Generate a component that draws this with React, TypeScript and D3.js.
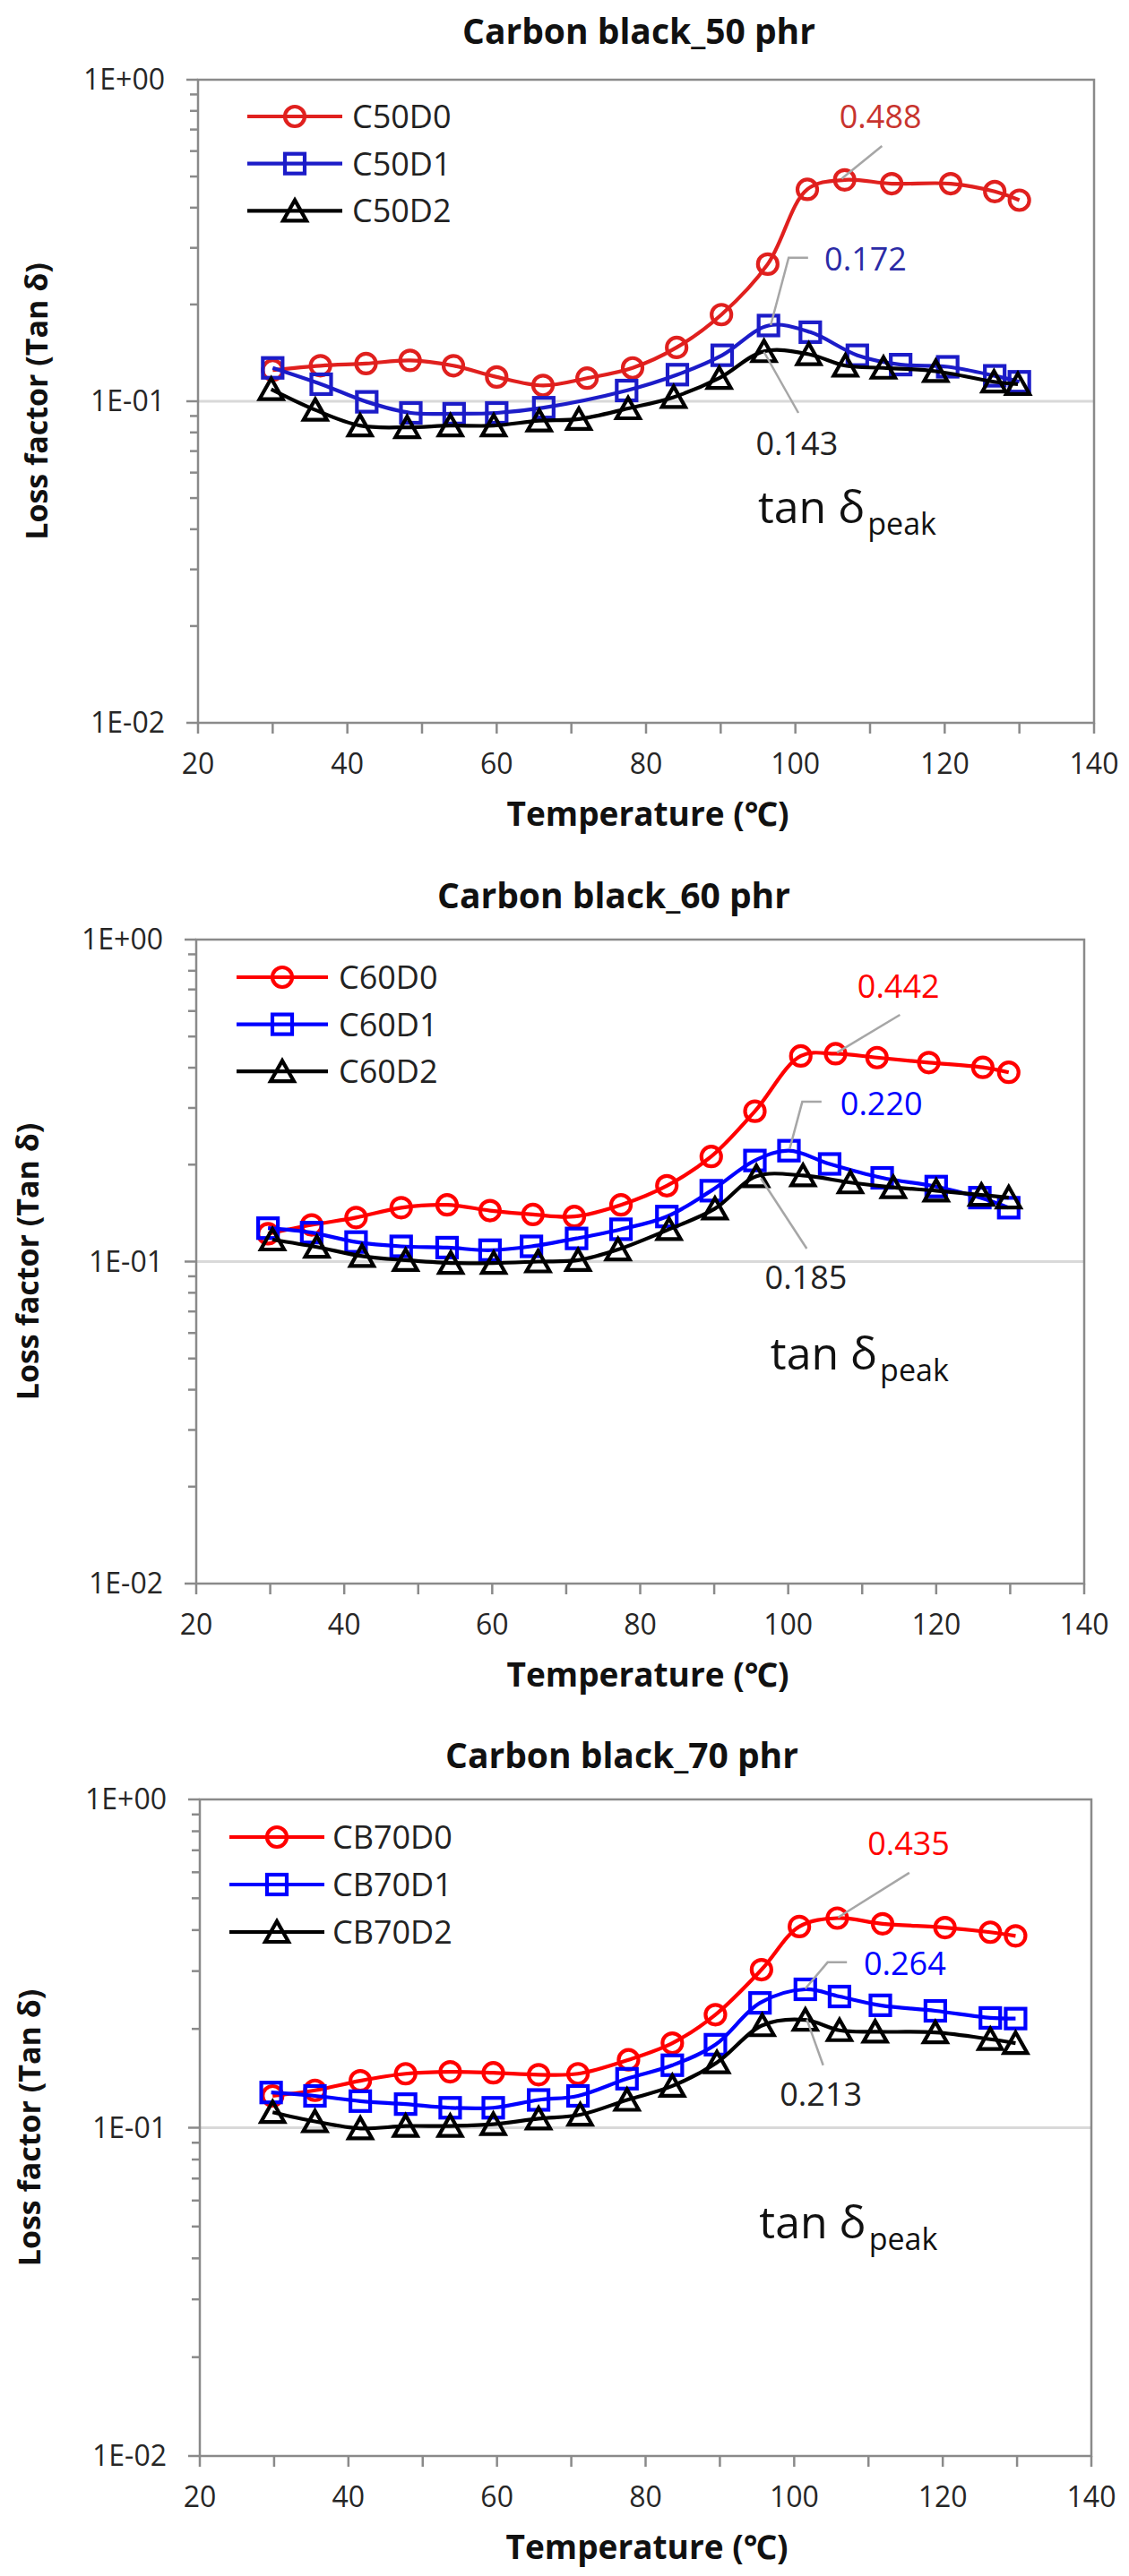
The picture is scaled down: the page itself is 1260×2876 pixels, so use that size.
import * as d3 from "d3";

// ---- data (temperature in °C, loss factor tan δ) ----
const temps50Red = [30, 36.4, 42.5, 48.4, 54.2, 60, 66.2, 72.1, 78.2, 84.1, 90.1, 96.3, 101.6, 106.6, 112.9, 120.8, 126.7, 130];
const c50d0 = [0.125, 0.129, 0.131, 0.134, 0.129, 0.119, 0.112, 0.118, 0.127, 0.147, 0.186, 0.267, 0.456, 0.488, 0.475, 0.475, 0.449, 0.422];
const temps50Blue = [30, 36.5, 42.6, 48.5, 54.3, 60, 66.3, 77.4, 84.2, 90.2, 96.4, 102, 108.3, 114.1, 120.4, 126.7, 130];
const c50d1 = [0.127, 0.113, 0.0996, 0.092, 0.0915, 0.092, 0.0955, 0.108, 0.121, 0.139, 0.172, 0.164, 0.139, 0.13, 0.128, 0.12, 0.115];
const temps50Black = [29.8, 35.7, 41.7, 48, 53.8, 59.6, 65.7, 71, 77.6, 83.7, 89.8, 95.8, 101.8, 106.7, 111.8, 118.8, 126.6, 129.8];
const c50d2 = [0.109, 0.094, 0.084, 0.083, 0.084, 0.084, 0.087, 0.088, 0.095, 0.103, 0.118, 0.143, 0.14, 0.129, 0.127, 0.124, 0.115, 0.113];

const temps60Red = [29.7, 35.6, 41.6, 47.7, 53.9, 59.7, 65.5, 71.1, 77.4, 83.6, 89.6, 95.5, 101.7, 106.4, 112, 119, 126.3, 129.8];
const c60d0 = [0.122, 0.13, 0.137, 0.147, 0.15, 0.144, 0.14, 0.138, 0.15, 0.172, 0.212, 0.293, 0.435, 0.442, 0.43, 0.415, 0.401, 0.387];
const temps60Blue = [29.7, 35.6, 41.6, 47.7, 53.9, 59.7, 65.3, 71.4, 77.4, 83.6, 89.6, 95.5, 100.1, 105.6, 112.7, 120, 125.9, 129.8];
const c60d1 = [0.127, 0.123, 0.115, 0.1115, 0.1105, 0.1085, 0.1115, 0.118, 0.126, 0.138, 0.166, 0.206, 0.221, 0.201, 0.182, 0.171, 0.158, 0.147];
const temps60Black = [30.3, 36.3, 42.4, 48.3, 54.4, 60.2, 66.2, 71.6, 77, 83.9, 90.1, 95.7, 102, 108.4, 114.2, 120, 126.1, 129.8];
const c60d2 = [0.117, 0.111, 0.104, 0.101, 0.099, 0.099, 0.1, 0.101, 0.109, 0.126, 0.146, 0.184, 0.185, 0.176, 0.17, 0.166, 0.161, 0.158];

const temps70Red = [29.8, 35.5, 41.6, 47.7, 53.7, 59.5, 65.6, 70.9, 77.7, 83.6, 89.4, 95.6, 100.7, 105.8, 111.9, 120.3, 126.4, 129.8];
const cb70d0 = [0.125, 0.13, 0.139, 0.146, 0.148, 0.147, 0.145, 0.146, 0.161, 0.181, 0.221, 0.303, 0.41, 0.435, 0.418, 0.407, 0.394, 0.384];
const temps70Blue = [29.6, 35.5, 41.6, 47.7, 53.7, 59.5, 65.6, 70.9, 77.5, 83.6, 89.4, 95.4, 101.5, 106.1, 111.6, 119, 126.4, 129.8];
const cb70d1 = [0.128, 0.125, 0.1205, 0.118, 0.115, 0.115, 0.1215, 0.125, 0.141, 0.155, 0.179, 0.24, 0.264, 0.251, 0.236, 0.227, 0.216, 0.215];
const temps70Black = [29.8, 35.5, 41.6, 47.7, 53.7, 59.5, 65.6, 71.2, 77.5, 83.6, 89.6, 95.7, 101.5, 106.1, 110.9, 119, 126.4, 129.8];
const cb70d2 = [0.1115, 0.1045, 0.0995, 0.1012, 0.1012, 0.1025, 0.1066, 0.1095, 0.1215, 0.134, 0.158, 0.205, 0.213, 0.198, 0.196, 0.195, 0.186, 0.181];

const xTicks = [20, 30, 40, 50, 60, 70, 80, 90, 100, 110, 120, 130, 140];
const xLabels = [20, 40, 60, 80, 100, 120, 140];
const yMajor = [1, 0.1, 0.01];
const yLabels = ["1E+00", "1E-01", "1E-02"];

const FONT = "'Open Sans', 'Noto Sans', 'DejaVu Sans', sans-serif";

type Marker = "circle" | "square" | "triangle";
type Series = { name: string; temps: number[]; values: number[]; color: string; marker: Marker };
type Note = { text: string; color: string; at: [number, number]; leader: [number, number][] };
type Panel = {
  title: string;
  plot: { l: number; r: number; t: number; b: number };
  titleAt: [number, number];
  yTitleX: number;
  xTitleX: number;
  legend: { x0: number; x1: number; textX: number; y0: number; dy: number };
  series: Series[];
  notes: Note[];
  peakAt: [number, number];
};

const panels: Panel[] = [
  {
    title: "Carbon black_50 phr",
    plot: { l: 221, r: 1221, t: 89, b: 807 },
    titleAt: [713, 49],
    yTitleX: 53,
    xTitleX: 723,
    legend: { x0: 276, x1: 382, textX: 393, y0: 130, dy: 52.7 },
    series: [
      { name: "C50D0", temps: temps50Red, values: c50d0, color: "#e0201e", marker: "circle" },
      { name: "C50D1", temps: temps50Blue, values: c50d1, color: "#1c1cc8", marker: "square" },
      { name: "C50D2", temps: temps50Black, values: c50d2, color: "#000000", marker: "triangle" },
    ],
    notes: [
      { text: "0.488", color: "#c8342e", at: [111.4, 0.706], leader: [[111.6, 0.622], [106.2, 0.492]] },
      { text: "0.172", color: "#2b2ba6", at: [109.4, 0.2556], leader: [[101.7, 0.2796], [99.1, 0.2796], [96.7, 0.1725]] },
      { text: "0.143", color: "#222222", at: [100.2, 0.0682], leader: [[95.8, 0.1423], [100.4, 0.092]] },
    ],
    peakAt: [95, 0.0418],
  },
  {
    title: "Carbon black_60 phr",
    plot: { l: 219, r: 1210, t: 1049, b: 1768 },
    titleAt: [685, 1014],
    yTitleX: 43,
    xTitleX: 723,
    legend: { x0: 264, x1: 366, textX: 378, y0: 1091, dy: 52.6 },
    series: [
      { name: "C60D0", temps: temps60Red, values: c60d0, color: "#ff0000", marker: "circle" },
      { name: "C60D1", temps: temps60Blue, values: c60d1, color: "#0000ff", marker: "square" },
      { name: "C60D2", temps: temps60Black, values: c60d2, color: "#000000", marker: "triangle" },
    ],
    notes: [
      { text: "0.442", color: "#ff0000", at: [114.9, 0.659], leader: [[115.1, 0.584], [106.6, 0.446]] },
      { text: "0.220", color: "#0000ff", at: [112.6, 0.285], leader: [[104.5, 0.3136], [101.9, 0.3136], [100.2, 0.2239]] },
      { text: "0.185", color: "#222222", at: [102.4, 0.082], leader: [[96.3, 0.1814], [102.5, 0.1097]] },
    ],
    peakAt: [97.6, 0.0462],
  },
  {
    title: "Carbon black_70 phr",
    plot: { l: 223, r: 1218, t: 2009, b: 2742 },
    titleAt: [694, 1974],
    yTitleX: 45,
    xTitleX: 722,
    legend: { x0: 256, x1: 362, textX: 371, y0: 2051, dy: 53 },
    series: [
      { name: "CB70D0", temps: temps70Red, values: cb70d0, color: "#ff0000", marker: "circle" },
      { name: "CB70D1", temps: temps70Blue, values: cb70d1, color: "#0000ff", marker: "square" },
      { name: "CB70D2", temps: temps70Black, values: cb70d2, color: "#000000", marker: "triangle" },
    ],
    notes: [
      { text: "0.435", color: "#ff0000", at: [115.4, 0.677], leader: [[115.5, 0.598], [105.9, 0.437]] },
      { text: "0.264", color: "#0000ff", at: [114.9, 0.2923], leader: [[107.1, 0.319], [104.5, 0.319], [101.5, 0.2652]] },
      { text: "0.213", color: "#222222", at: [103.6, 0.1165], leader: [[101.7, 0.2136], [103.9, 0.155]] },
    ],
    peakAt: [95.3, 0.0459],
  },
];

const STROKE = 4.2;

function MarkerShape({ kind, x, y, color }: { kind: Marker; x: number; y: number; color: string }) {
  const common = { fill: "none", stroke: color, strokeWidth: STROKE };
  if (kind === "circle") return <circle cx={x} cy={y} r={11} {...common} />;
  if (kind === "square") return <rect x={x - 11} y={y - 11} width={22} height={22} {...common} />;
  return <path d={`M${x},${y - 12}L${x + 13},${y + 11}L${x - 13},${y + 11}Z`} {...common} strokeLinejoin="miter" />;
}

function Chart({ panel }: { panel: Panel }) {
  const { plot } = panel;
  const x = d3.scaleLinear().domain([20, 140]).range([plot.l, plot.r]);
  const y = d3.scaleLog().domain([0.01, 1]).range([plot.b, plot.t]);
  const minor = [0.01, 0.1].flatMap((d) => d3.range(2, 10).map((k) => k * d));
  const line = d3
    .line<[number, number]>()
    .x((d) => x(d[0]))
    .y((d) => y(d[1]))
    .curve(d3.curveCatmullRom.alpha(0.5));
  const leaderLine = d3
    .line<[number, number]>()
    .x((d) => x(d[0]))
    .y((d) => y(d[1]));
  const axisColor = "#8a8a8a";
  const midY = (plot.t + plot.b) / 2;

  return (
    <g fontFamily={FONT}>
      <text x={panel.titleAt[0]} y={panel.titleAt[1]} textAnchor="middle" fontSize={39} fontWeight="bold" fill="#111">
        {panel.title}
      </text>

      {/* gridline at 1E-01 */}
      <line x1={plot.l} x2={plot.r} y1={y(0.1)} y2={y(0.1)} stroke="#d9d9d9" strokeWidth={3} />

      {/* frame */}
      <rect x={plot.l} y={plot.t} width={plot.r - plot.l} height={plot.b - plot.t} fill="none" stroke={axisColor} strokeWidth={2.5} />

      {minor.map((v) => (
        <line key={v} x1={plot.l - 9} x2={plot.l} y1={y(v)} y2={y(v)} stroke={axisColor} strokeWidth={2.5} />
      ))}
      {yMajor.map((v, i) => (
        <g key={v}>
          <line x1={plot.l - 13} x2={plot.l} y1={y(v)} y2={y(v)} stroke={axisColor} strokeWidth={2.5} />
          <text x={plot.l - 37} y={y(v) + 11} textAnchor="end" fontSize={32} fill="#262626">
            {yLabels[i]}
          </text>
        </g>
      ))}
      {xTicks.map((t) => (
        <line key={t} x1={x(t)} x2={x(t)} y1={plot.b} y2={plot.b + 12} stroke={axisColor} strokeWidth={2.5} />
      ))}
      {xLabels.map((t) => (
        <text key={t} x={x(t)} y={plot.b + 57} textAnchor="middle" fontSize={32} fill="#262626">
          {t}
        </text>
      ))}

      <text
        transform={`translate(${panel.yTitleX},${midY}) rotate(-90)`}
        textAnchor="middle"
        fontSize={34}
        fontWeight="bold"
        fill="#111"
      >
        Loss factor (Tan δ)
      </text>
      <text x={panel.xTitleX} y={plot.b + 115} textAnchor="middle" fontSize={37} fontWeight="bold" fill="#111">
        Temperature (℃)
      </text>

      {/* series */}
      {panel.series.map((s) => {
        const pts = s.temps.map((t, i) => [t, s.values[i]] as [number, number]);
        return (
          <g key={s.name}>
            <path d={line(pts) ?? ""} fill="none" stroke={s.color} strokeWidth={STROKE} />
            {pts.map((p, i) => (
              <MarkerShape key={i} kind={s.marker} x={x(p[0])} y={y(p[1])} color={s.color} />
            ))}
          </g>
        );
      })}

      {/* legend */}
      {panel.series.map((s, i) => {
        const ly = panel.legend.y0 + i * panel.legend.dy;
        return (
          <g key={s.name}>
            <line x1={panel.legend.x0} x2={panel.legend.x1} y1={ly} y2={ly} stroke={s.color} strokeWidth={STROKE} />
            <MarkerShape kind={s.marker} x={(panel.legend.x0 + panel.legend.x1) / 2} y={ly} color={s.color} />
            <text x={panel.legend.textX} y={ly + 13} fontSize={36} fill="#222">
              {s.name}
            </text>
          </g>
        );
      })}

      {/* peak annotations */}
      {panel.notes.map((n) => (
        <g key={n.text}>
          <path d={leaderLine(n.leader) ?? ""} fill="none" stroke="#a6a6a6" strokeWidth={2.5} />
          <text x={x(n.at[0])} y={y(n.at[1])} textAnchor="middle" fontSize={36} fill={n.color}>
            {n.text}
          </text>
        </g>
      ))}
      <text x={x(panel.peakAt[0])} y={y(panel.peakAt[1])} fontSize={50} fill="#111">
        tan δ
        <tspan fontSize={34} dx={3} dy={13}>
          peak
        </tspan>
      </text>
    </g>
  );
}

export default function App() {
  return (
    <svg
      width={1260}
      height={2876}
      viewBox="0 0 1260 2876"
      style={{ position: "absolute", left: 0, top: 0, background: "#fff" }}
    >
      <rect width={1260} height={2876} fill="#fff" />
      {panels.map((p) => (
        <Chart key={p.title} panel={p} />
      ))}
    </svg>
  );
}
